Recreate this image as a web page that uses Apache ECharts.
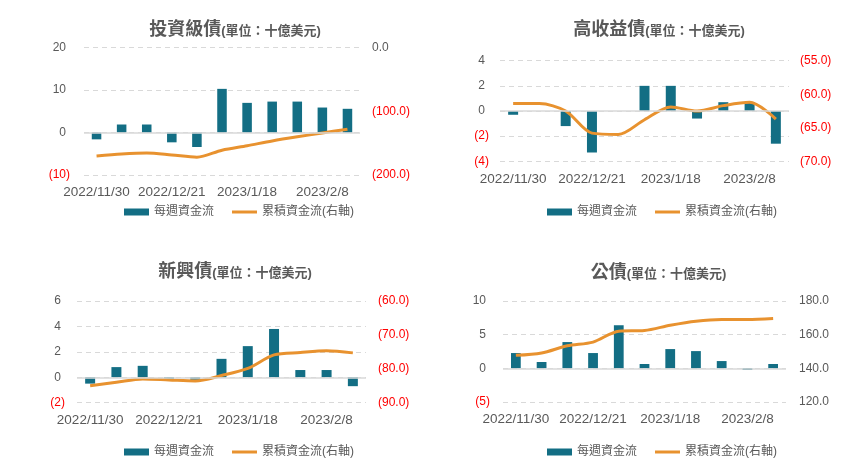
<!DOCTYPE html>
<html>
<head>
<meta charset="utf-8">
<script src="https://cdn.jsdelivr.net/npm/echarts@6/dist/echarts.min.js"></script>
<style>html,body{margin:0;padding:0;background:#fff}#c{width:856px;height:468px}</style>
</head>
<body>
<div id="c"></div>
<script>
const categories = ['2022/11/30','2022/12/7','2022/12/14','2022/12/21','2022/12/28','2023/1/11','2023/1/18','2023/1/25','2023/2/1','2023/2/8','2023/2/15'];

const titles = ['投資級債', '高收益債', '新興債', '公債'];
const unitText = '(單位：十億美元)';
const barName = '每週資金流';
const lineName = '累積資金流(右軸)';

// 投資級債
const igWeekly = [-1.6, 1.9, 1.9, -2.3, -3.4, 10.3, 7.0, 7.3, 7.3, 5.9, 5.6];
const igCumulative = [-170, -167, -165.5, -168.5, -172, -161, -154, -146.5, -140, -134, -128];
// 高收益債
const hyWeekly = [-0.3, 0, -1.2, -3.3, 0, 2.0, 2.0, -0.6, 0.7, 0.7, -2.6];
const hyCumulative = [-61.4, -61.4, -62.5, -65.8, -66.0, -63.8, -61.9, -62.5, -61.7, -61.2, -63.7];
// 新興債
const emWeekly = [-0.5, 0.8, 0.9, -0.15, -0.2, 1.45, 2.45, 3.8, 0.57, 0.57, -0.7];
const emCumulative = [-85.0, -84.0, -83.0, -83.3, -83.6, -82.0, -79.9, -75.9, -75.2, -74.7, -75.3];
// 公債
const govWeekly = [2.27, 0.94, 3.9, 2.27, 6.4, 0.64, 2.86, 2.56, 1.08, -0.25, 0.64];
const govCumulative = [147.7, 149.1, 153.4, 155.6, 162.1, 162.5, 165.6, 168.0, 169.0, 169.0, 169.6];

// axis ranges [min, max, interval]
const leftAxes = [[-10, 20, 10], [-4, 4, 2], [-2, 6, 2], [-5, 10, 5]];
const rightAxes = [[-200, 0, 100], [-70, -55, 5], [-90, -60, 10], [120, 180, 20]];

const weeklyData = [igWeekly, hyWeekly, emWeekly, govWeekly];
const cumData = [igCumulative, hyCumulative, emCumulative, govCumulative];

// layout
const grids = [
  {left: 84, top: 47.7, width: 276, height: 127.3},
  {left: 500, top: 60.7, width: 289, height: 100.6},
  {left: 77, top: 301, width: 289, height: 101.7},
  {left: 503, top: 301, width: 283, height: 101}
];
const titlePos = [[230, 16], [654, 16], [230, 258], [653.5, 259]];
const legendPos = [[119, 201], [542, 201], [119, 441], [542, 441]];
const leftMargin = [14, 11, 12, 13];
const rightMargin = [12, 11, 12, 13];

const GRAY = '#595959';
const RED = '#FF0000';
const BAR = '#136E84';
const LINE = '#E8922F';
const FONT = 'Liberation Sans, "Noto Sans CJK TC", sans-serif';

function leftFmt(v) {
  return v < 0 ? '{n|(' + Math.abs(v) + ')}' : '{p|' + v + '}';
}
function rightFmt(v) {
  return v < 0 ? '{n|(' + Math.abs(v).toFixed(1) + ')}' : '{q|' + v.toFixed(1) + '}';
}
const labelRich = {
  n: {color: RED, fontSize: 12, fontFamily: FONT},
  p: {color: GRAY, fontSize: 12, fontFamily: FONT, padding: [0, 4, 0, 0]},
  q: {color: GRAY, fontSize: 12, fontFamily: FONT}
};

const option = {
  animation: false,
  backgroundColor: '#fff',
  title: [], legend: [], grid: [], xAxis: [], yAxis: [], series: []
};

for (let i = 0; i < 4; i++) {
  option.grid.push(Object.assign({containLabel: false}, grids[i]));
  option.title.push({
    text: '{a|' + titles[i] + '}{b|' + unitText + '}',
    left: titlePos[i][0], top: titlePos[i][1], textAlign: 'center',
    textStyle: {
      rich: {
        a: {fontSize: 18, fontWeight: 'bold', color: GRAY, fontFamily: FONT},
        b: {fontSize: 13, fontWeight: 'bold', color: GRAY, fontFamily: FONT, padding: [3, 0, 0, 0]}
      }
    }
  });
  option.legend.push({
    left: legendPos[i][0], top: legendPos[i][1],
    itemGap: 18, itemWidth: 25, itemHeight: 7,
    symbolKeepAspect: true,
    textStyle: {color: GRAY, fontSize: 12, fontFamily: FONT},
    data: [
      {name: barName, icon: 'rect'},
      {name: lineName, icon: 'path://M0,0 L25,0 L25,3 L0,3 Z', itemStyle: {color: LINE}}
    ],
    selectedMode: false
  });
  option.xAxis.push({
    type: 'category', gridIndex: i, data: categories,
    axisLine: {show: false}, axisTick: {show: false},
    axisLabel: {interval: 2, color: GRAY, fontSize: 13.5, fontFamily: FONT, margin: 11},
    splitLine: {show: false}
  });
  const la = leftAxes[i], ra = rightAxes[i];
  option.yAxis.push({
    type: 'value', gridIndex: i, position: 'left',
    min: la[0], max: la[1], interval: la[2],
    axisLine: {show: false}, axisTick: {show: false},
    axisLabel: {formatter: leftFmt, rich: labelRich, margin: leftMargin[i]},
    splitLine: {show: true, lineStyle: {color: '#D9D9D9', type: [5, 4], width: 1}}
  });
  option.yAxis.push({
    type: 'value', gridIndex: i, position: 'right',
    min: ra[0], max: ra[1], interval: ra[2],
    axisLine: {show: false}, axisTick: {show: false},
    axisLabel: {formatter: rightFmt, rich: labelRich, margin: rightMargin[i]},
    splitLine: {show: false}
  });
  option.series.push({
    name: barName, type: 'bar', xAxisIndex: i, yAxisIndex: i * 2,
    data: weeklyData[i], barWidth: '38%',
    itemStyle: {color: BAR},
    markLine: {
      silent: true, symbol: 'none', label: {show: false},
      lineStyle: {color: '#D9D9D9', type: 'solid', width: 1.5},
      data: [{yAxis: 0}]
    },
    z: 2
  });
  option.series.push({
    name: lineName, type: 'line', xAxisIndex: i, yAxisIndex: i * 2 + 1,
    data: cumData[i], symbol: 'none', smooth: 0.3,
    lineStyle: {color: LINE, width: 3}, itemStyle: {color: LINE},
    z: 3
  });
}

const chart = echarts.init(document.getElementById('c'));
chart.setOption(option);
</script>
</body>
</html>
